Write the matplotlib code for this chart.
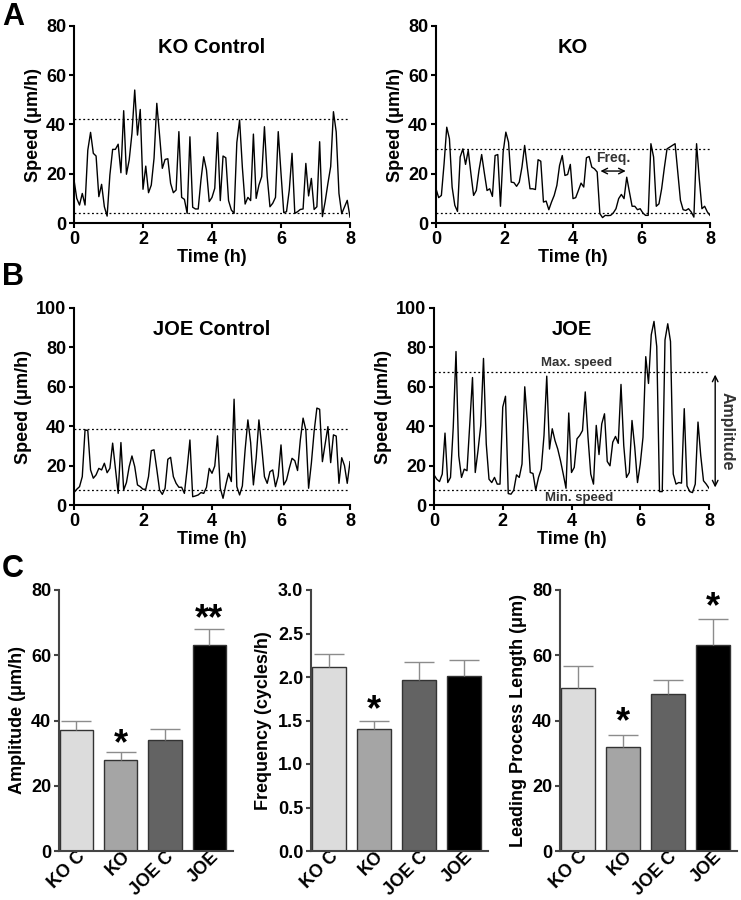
import numpy as np
import matplotlib
matplotlib.use('Agg')
import matplotlib.pyplot as plt
from matplotlib.transforms import ScaledTranslation

plt.rcParams['font.family'] = ['Liberation Sans', 'DejaVu Sans']
plt.rcParams['font.weight'] = 'bold'
plt.rcParams['axes.labelweight'] = 'bold'

# Speed traces (um/h), sampled evenly across 0-8 h
ko_ctrl = [17.5, 10, 7.3, 12, 7.3, 29.6, 36.8, 28.3, 27.2, 10.7, 15.7, 6.6, 2.8, 19.5,
           29.9, 29.9, 32, 20.4, 45.6, 19.8, 25.6, 36.4, 54, 35.7, 46.1, 13.7, 23.1,
           12.3, 15.4, 26.3, 48.6, 35.7, 22.2, 25.8, 26.1, 16.1, 12.3, 13.4, 37.1, 10.4,
           9.6, 3.9, 35, 6.4, 5.7, 5.7, 17.5, 26.9, 21.5, 8.7, 10.4, 14.1, 36.7, 9.1,
           27.2, 26.5, 9.1, 5.3, 3.9, 32.7, 41.8, 22.6, 7.7, 10.4, 9.1, 36.1, 10, 15.4,
           18.8, 39.1, 18.8, 6.6, 8, 10.4, 37.1, 20.2, 4.2, 4.6, 13.4, 28.3, 3.9, 4.6,
           5.5, 5.7, 24.2, 11, 18.1, 5.5, 6.6, 33, 2.6, 8.7, 16.1, 22.9, 45.2, 37, 12,
           3.8, 6.5, 9.2, 2.4]
ko = [13.9, 10.3, 11.2, 24, 38.9, 34.2, 14.6, 7.2, 4.7, 26.8, 30.1, 23.8, 29.5, 20,
      11.2, 13.2, 21.4, 27.8, 20.3, 13.2, 13.9, 10.8, 27.4, 27.8, 6.8, 28.8, 36.9,
      32.8, 16.6, 16.4, 14.9, 16.6, 22.7, 31.5, 22.4, 13.9, 13.9, 13.6, 25.7, 25.1,
      8.5, 8.9, 5.4, 8.5, 11.2, 15.3, 23.4, 27.4, 19.3, 19.7, 23.8, 9.9, 10.3, 13.2,
      16.2, 14.6, 26.5, 27, 22.7, 22, 20.7, 3.8, 2.2, 3.1, 3, 3.1, 4.1, 5.8, 9.9,
      11.6, 9.9, 18.6, 12.6, 6.8, 6.8, 5.4, 5.8, 4.1, 3.1, 3.1, 32.2, 26.8, 6.8, 7.8,
      13.9, 22.4, 30.1, 30.8, 31.5, 32.2, 20.7, 9.2, 5.4, 5.1, 5.8, 4.5, 2.4, 32.2,
      18, 5.8, 6.8, 4.5, 3.1]
joe_ctrl = [6.3, 8, 9.3, 14.4, 38.1, 37.8, 17.8, 13.6, 15.3, 18.6, 17.8, 21.2, 16.4,
            18.6, 31.4, 18.6, 5.9, 31.7, 7.6, 11.4, 19.5, 24.9, 19.5, 10.2, 9.3, 8, 8,
            14.4, 27.6, 28, 18.1, 7.6, 5.4, 8.5, 23.2, 24.2, 14.4, 11, 9, 9, 5.9, 18.6,
            33, 4.2, 4.6, 5.1, 6.3, 5.9, 9, 18.6, 16.1, 19.8, 35.1, 8.5, 3.4, 10.2,
            16.1, 11.9, 53.7, 9.3, 5.1, 9.7, 28, 43.2, 31.7, 10.2, 23.7, 43.2, 29.7,
            14.4, 11, 16.9, 17.8, 9.3, 14.7, 30.5, 10.2, 12.7, 18.6, 23.7, 22.5, 17.5,
            33, 44.1, 38.1, 8.5, 21.2, 37.3, 49.2, 48.6, 22, 31, 39.8, 21.5, 35.6, 35,
            11, 24, 20, 11, 22]
joe = [15.3, 13.1, 11.9, 15.7, 36.5, 11.4, 14, 39.5, 77.9, 25, 14, 18.2, 17.4, 40.9,
       64.7, 16.5, 27.6, 40.4, 74.4, 31, 13.1, 11.4, 14, 10.6, 10.6, 49.7, 55.2, 5.8,
       5.5, 7.5, 15.3, 14, 20.8, 60, 41.2, 16.5, 16, 7.5, 14, 18.2, 35.3, 65.4, 28.4,
       38.7, 32.7, 28.4, 22.5, 15.7, 8.5, 46.7, 16.5, 19.1, 33.6, 35.3, 37.8, 57.4,
       34.4, 15.7, 10.6, 40.4, 25.6, 41.2, 46.3, 22.1, 19.9, 31.9, 34.8, 31.3, 61.2,
       30.2, 14, 16.5, 42.9, 29.3, 11.4, 20.8, 34.4, 75.3, 61.7, 86.4, 93.2, 80.4, 6.8,
       6.8, 83.8, 92, 83, 15.7, 10.6, 11.4, 11.1, 48.9, 9.7, 6.8, 6.3, 10.6, 42.1, 25,
       12.3, 10.6, 8.5]

# max / min speed guide lines
ko_ctrl_lines = [42.2, 3.9]
ko_lines = [30.1, 4.1]
joe_ctrl_lines = [38.6, 7.8]
joe_lines = [67.6, 7.5]

# bar data
groups = ['KO C', 'KO', 'JOE C', 'JOE']
bar_colors = ['#dcdcdc', '#a5a5a5', '#636363', '#000000']
amplitude = [37, 28, 34, 63]
amplitude_err = [3, 2.2, 3.5, 5]
frequency = [2.12, 1.40, 1.96, 2.01]
frequency_err = [0.14, 0.10, 0.21, 0.18]
lp_length = [50, 32, 48, 63]
lp_length_err = [6.7, 3.5, 4.5, 8]

W, H = 741, 900
fig = plt.figure(figsize=(W / 100, H / 100), dpi=100)


def box(x0, x1, ytop, ybot):
    return [x0 / W, 1 - ybot / H, (x1 - x0) / W, (ybot - ytop) / H]


def style(ax, color='black'):
    for s in ['top', 'right']:
        ax.spines[s].set_visible(False)
    for s in ['left', 'bottom']:
        ax.spines[s].set_linewidth(1.5)
        ax.spines[s].set_color(color)
    ax.tick_params(direction='out', length=3.5, width=1.5, labelsize=13, pad=2, colors=color)
    for lab in ax.get_xticklabels() + ax.get_yticklabels():
        lab.set_fontweight('bold')
        lab.set_color('black')


def trace(rect, vals, lines, title, ymax):
    ax = fig.add_axes(rect)
    t = np.linspace(0, 8, len(vals))
    ax.plot(t, vals, color='black', lw=1.0)
    for v in lines:
        ax.axhline(v, color='black', lw=0.9, ls=(0, (1.5, 2)))
    ax.set_xlim(0, 8)
    ax.set_ylim(0, ymax)
    ax.set_xticks([0, 2, 4, 6, 8])
    ax.set_yticks(np.arange(0, ymax + 1, 20))
    ax.set_xlabel('Time (h)', fontsize=13, fontweight='bold', labelpad=1)
    ax.set_ylabel('Speed (μm/h)', fontsize=13, fontweight='bold', labelpad=3)
    ax.text(0.5, 0.89, title, transform=ax.transAxes, ha='center', va='center',
            fontsize=14.5, fontweight='bold')
    style(ax)
    return ax


ax1 = trace(box(74, 350, 26, 223), ko_ctrl, ko_ctrl_lines, 'KO Control', 80)
ax2 = trace(box(436, 710, 26, 223), ko, ko_lines, 'KO', 80)
ax2.annotate('', xy=(4.72, 21.1), xytext=(5.62, 21.1),
             arrowprops=dict(arrowstyle='<->', color='black', lw=1.0))
ax2.text(5.18, 26.5, 'Freq.', ha='center', va='center', fontsize=10, fontweight='bold',
         color='#333333')

ax3 = trace(box(74, 350, 308, 505), joe_ctrl, joe_ctrl_lines, 'JOE Control', 100)
ax4 = trace(box(434, 709, 308, 505), joe, joe_lines, 'JOE', 100)
ax4.text(4.15, 72, 'Max. speed', ha='center', va='center', fontsize=9.5,
         fontweight='bold', color='#333333')
ax4.text(4.23, 3.4, 'Min. speed', ha='center', va='center', fontsize=9.5,
         fontweight='bold', color='#333333')
ax4.annotate('', xy=(8.18, joe_lines[0]), xytext=(8.18, joe_lines[1]),
             arrowprops=dict(arrowstyle='<->', color='black', lw=1.0),
             annotation_clip=False)
ax4.text(8.52, 37.5, 'Amplitude', rotation=-90, ha='center', va='center',
         fontsize=11.5, fontweight='bold', color='#333333', clip_on=False)


def bars(rect, vals, errs, ylabel, ymax, yticks, fmt, stars):
    ax = fig.add_axes(rect)
    x = np.arange(len(groups))
    ax.bar(x, vals, width=0.75, color=bar_colors, edgecolor='#333333', lw=1.0, zorder=2)
    eb = ax.errorbar(x, vals, yerr=[np.zeros(len(vals)), errs], fmt='none',
                     ecolor='#8c8c8c', elinewidth=1.0, capsize=11, capthick=1.0, zorder=3)
    eb[1][0].set_visible(False)
    for i, (s, y) in stars.items():
        ax.text(x[i], y, s, ha='center', va='center', fontsize=26, fontweight='bold')
    ax.set_xlim(-0.39, 3.53)
    ax.set_ylim(0, ymax)
    ax.set_yticks(yticks)
    ax.set_yticklabels([fmt.format(v) for v in yticks])
    ax.set_xticks(x)
    ax.set_xticklabels(groups, rotation=45, ha='right', va='baseline',
                       rotation_mode='anchor', fontsize=10)
    ax.set_ylabel(ylabel, fontsize=13, fontweight='bold', labelpad=4)
    style(ax, '#444444')
    ax.tick_params(axis='x', length=0, pad=4.5)
    shift = ScaledTranslation(7 / 72, 0, fig.dpi_scale_trans)
    for lab in ax.get_xticklabels():
        lab.set_transform(lab.get_transform() + shift)
    return ax


bars(box(59, 233, 590, 851), amplitude, amplitude_err, 'Amplitude (μm/h)', 80,
     [0, 20, 40, 60, 80], '{:.0f}', {1: ('*', 32.5), 3: ('**', 71)})
bars(box(311, 488, 590, 851), frequency, frequency_err, 'Frequency (cycles/h)', 3.0,
     [0, 0.5, 1.0, 1.5, 2.0, 2.5, 3.0], '{:.1f}', {1: ('*', 1.61)})
bars(box(560, 737, 590, 851), lp_length, lp_length_err, 'Leading Process Length (μm)', 80,
     [0, 20, 40, 60, 80], '{:.0f}', {1: ('*', 39.2), 3: ('*', 74.7)})

for letter, ytop in [('A', 2), ('B', 262), ('C', 554)]:
    fig.text(2 / W, 1 - ytop / H, letter, ha='left', va='top', fontsize=22,
             fontweight='bold')

fig.savefig('out.png', dpi=100)
